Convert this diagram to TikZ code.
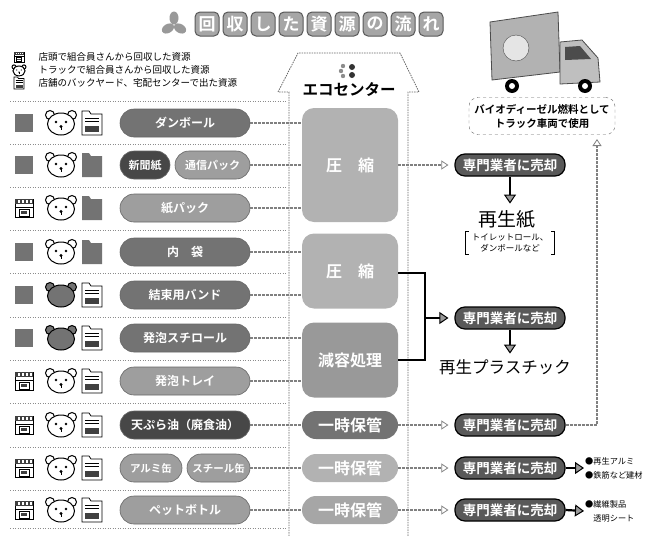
\documentclass[tikz,border=0pt]{standalone}
\usepackage{fontspec}
\newfontfamily\jp{Noto Sans CJK JP}[BoldFont={Noto Sans CJK JP Bold}]
\usepackage{tikz}
\usetikzlibrary{arrows.meta}

\colorlet{pilldark}{black!72}
\colorlet{pillmid}{black!55}
\colorlet{pilllight}{black!38}

\tikzset{
  pill/.style={rectangle, rounded corners=14pt, minimum height=28pt, inner sep=0pt,
    draw=black!60, line width=0.6pt, text=white, font=\jp\bfseries\fontsize{12}{12}\selectfont},
  stage/.style={rectangle, rounded corners=14pt, minimum width=96pt, minimum height=28pt,
    inner sep=0pt, text=white, font=\jp\bfseries\fontsize{16}{16}\selectfont},
  seller/.style={rectangle, rounded corners=10pt, minimum width=110pt, minimum height=22pt,
    inner sep=0pt, fill=black!65, draw=black, line width=1.2pt, text=white,
    font=\jp\bfseries\fontsize{13.5}{13.5}\selectfont},
  titlechar/.style={rectangle, rounded corners=5pt, minimum size=24pt, inner sep=0pt,
    fill=black!35, draw=black!65, line width=1pt, text=white,
    font=\jp\bfseries\fontsize{17}{17}\selectfont},
  rule/.style={draw=black!45, dash pattern=on 1pt off 1.5pt, line width=0.7pt},
  houseline/.style={draw=black!60, dash pattern=on 1.5pt off 1pt, line width=0.8pt},
  feed/.style={draw=black!50, line width=1.2pt, dash pattern=on 3pt off 1pt},
  feedarrow/.style={feed, -{Triangle[open, length=7pt, width=9pt, line width=0.8pt]}},
  boldline/.style={draw=black, line width=2.2pt},
  boldarrow/.style={boldline, -{Triangle[length=9pt, width=12pt, fill=black!40, line width=1pt]}},
  iconoff/.style={fill=black!55},
  % store front: 1 = collected here, 0 = not
  pics/store/.style={code={
    \ifnum#1=1
      \draw[line width=0.8pt, fill=white] (-9,-9) rectangle (9,9);
      \fill[black!75] (-9,-9) rectangle (9,-4);
      \foreach \s in {-6,-2,2,6} \fill[white] (\s,-8) rectangle (\s+1.5,-5);
      \draw[line width=0.6pt] (-9,-1) -- (9,-1);
      \draw[line width=0.8pt] (-5,1) rectangle (5,8);
      \fill[black!75] (-3,3) rectangle (3,6);
    \else
      \fill[iconoff] (-9,-9) rectangle (9,9);
    \fi}},
  % bear face of the delivery truck
  pics/bear/.style={code={
    \ifnum#1=1 \def\bearfill{white}\else\def\bearfill{black!55}\fi
    \draw[line width=1pt, fill=\bearfill] (-11,-8) circle (4.5) (11,-8) circle (4.5);
    \draw[line width=1pt, fill=\bearfill] (0,1) ellipse (13.5 and 11);
    \ifnum#1=1
      \fill (-5,-1) circle (1.4) (5,-1) circle (1.4) (0,3.5) circle (1.6);
      \draw[line width=0.8pt] (0,3.5) -- (0,7);
    \fi}},
  % back-yard slip
  pics/doc/.style={code={
    \ifnum#1=1
      \draw[line width=0.8pt, fill=white] (-10,-12) -- (-3,-12) -- (-1,-9) -- (10,-9)
        -- (10,12) -- (-10,12) -- cycle;
      \draw[line width=0.6pt] (-7,-5) -- (7,-5) (-7,-2) -- (7,-2);
      \fill[black!75] (-7,3) rectangle (7,9);
    \else
      \fill[iconoff] (-10,-12) -- (-3,-12) -- (-1,-9) -- (10,-9)
        -- (10,12) -- (-10,12) -- cycle;
    \fi}},
}

\begin{document}
\begin{tikzpicture}[x=1pt, y=-1pt, font=\jp]
  \useasboundingbox (0,0) rectangle (646,536);

  % Title
  \begin{scope}[shift={(174,25)}]
    \foreach \a in {90,210,330}
      \fill[black!40, rotate=\a] (7,0) ellipse (6.5 and 4.5);
  \end{scope}
  \foreach \c [count=\i] in {回,収,し,た,資,源,の,流,れ}
    \node[titlechar] (t\i) at ({179+28*\i},24) {\c};

  % Legend
  \pic[scale=0.55] at (19,57) {store=1};
  \pic[scale=0.45] at (19,70.5) {bear=1};
  \pic[scale=0.5] at (19,83) {doc=1};
  \node[anchor=west, font=\jp\fontsize{9.5}{9.5}\selectfont] (lg1) at (35,57)
    {店頭で組合員さんから回収した資源};
  \node[anchor=west, font=\jp\fontsize{9.5}{9.5}\selectfont] (lg2) at (35,70)
    {トラックで組合員さんから回収した資源};
  \node[anchor=west, font=\jp\fontsize{9.5}{9.5}\selectfont] (lg3) at (35,83)
    {店舗のバックヤード、宅配センターで出た資源};

  % Eco center outline
  \draw[houseline] (289,536) -- (289,92) -- (278,92) -- (298,53) -- (400,53)
    -- (419,92) -- (408,92) -- (408,536);
  \fill[black!45] (343,66) circle (2.2) (341,71) circle (2.2) (343,76) circle (2.2);
  \fill[black!80] (352,67) circle (3) (352,75) circle (3);
  \node[font=\jp\bfseries\fontsize{15.5}{15.5}\selectfont] (eco) at (349,90) {エコセンター};

  % Row rules
  \foreach \y in {101,144,187,230,273,317,360,403,447,490,528}
    \draw[rule] (10,\y) -- (287,\y);

  % Source icons per row
  \foreach \y/\s/\b/\d in {123/0/1/1, 165/0/1/0, 208/1/1/0, 252/0/1/0, 295/0/0/1,
                           338/0/0/1, 381/1/1/1, 425/1/1/1, 468/1/1/1, 510/1/1/1} {
    \pic at (24,\y) {store=\s};
    \pic at (61,\y) {bear=\b};
    \pic at (92,\y) {doc=\d};
  }

  % Materials
  \foreach \r/\y/\c/\t in {1/123/pillmid/ダンボール, 3/208/pilllight/紙パック,
      4/252/pillmid/内　袋, 5/295/pillmid/結束用バンド, 6/338/pillmid/発泡スチロール,
      7/381/pilllight/発泡トレイ, 8/425/pilldark/天ぷら油（廃食油）,
      10/510/pilllight/ペットボトル}
    \node[pill, fill=\c, minimum width=130pt] (p\r) at (185,\y) {\t};
  \node[pill, fill=pilldark, minimum width=50pt, font=\jp\bfseries\fontsize{11}{11}\selectfont]
    (p2n) at (145,165) {新聞紙};
  \node[pill, fill=pilllight, minimum width=75pt, font=\jp\bfseries\fontsize{11}{11}\selectfont]
    (p2) at (212.5,165) {通信パック};
  \node[pill, fill=pilllight, minimum width=62pt, font=\jp\bfseries\fontsize{10.5}{10.5}\selectfont]
    (p9a) at (151,468) {アルミ缶};
  \node[pill, fill=pilllight, minimum width=63pt, font=\jp\bfseries\fontsize{10.5}{10.5}\selectfont]
    (p9) at (218.5,468) {スチール缶};

  % Processing at the eco center
  \node[stage, fill=black!30, minimum height=114pt, rounded corners=12pt] (m1) at (350,165) {圧　縮};
  \node[stage, fill=black!30, minimum height=75pt, rounded corners=12pt] (m2) at (350,271) {圧　縮};
  \node[stage, fill=black!40, minimum height=75pt, rounded corners=12pt] (m3) at (350,360) {減容処理};
  \node[stage, fill=black!55] (m4) at (350,425) {一時保管};
  \node[stage, fill=black!30] (m5) at (350,468) {一時保管};
  \node[stage, fill=black!35] (m6) at (350,510) {一時保管};

  \foreach \r/\m in {1/1,2/1,3/1,4/2,5/2,6/3,7/3,8/4,9/5,10/6}
    \draw[feed] (p\r.east) -- (p\r.east -| m\m.west);

  % Sold to recyclers
  \node[seller] (s1) at (510,165) {専門業者に売却};
  \node[seller] (s2) at (510,318) {専門業者に売却};
  \node[seller] (s3) at (510,425) {専門業者に売却};
  \node[seller] (s4) at (510,468) {専門業者に売却};
  \node[seller] (s5) at (510,510) {専門業者に売却};

  \draw[feedarrow, shorten >=6pt] (m1) -- (s1);
  \draw[feedarrow, shorten >=6pt] (m4) -- (s3);
  \draw[feedarrow, shorten >=6pt] (m5) -- (s4);
  \draw[feedarrow, shorten >=6pt] (m6) -- (s5);

  \coordinate (join) at (425,318);
  \draw[boldline] (m2.east |- 0,273) -- (425,273) -- (425,360) -- (m3.east |- 0,360);
  \draw[boldarrow, shorten >=6pt] (join) -- (s2);

  % Results
  \draw[boldarrow] (s1.south) -- ++(0,27);
  \node[font=\jp\fontsize{19}{19}\selectfont] (r1) at (507,219) {再生紙};
  \node[align=center, font=\jp\fontsize{8.5}{11}\selectfont, inner xsep=6pt, inner ysep=2pt]
    (r1n) at (510,243) {トイレットロール、\\ダンボールなど};
  \draw[line width=0.8pt] ([xshift=3pt]r1n.north west) -- (r1n.north west)
    -- (r1n.south west) -- ([xshift=3pt]r1n.south west);
  \draw[line width=0.8pt] ([xshift=-3pt]r1n.north east) -- (r1n.north east)
    -- (r1n.south east) -- ([xshift=-3pt]r1n.south east);

  \draw[boldarrow] (s2.south) -- ++(0,24);
  \node[font=\jp\fontsize{16.5}{16.5}\selectfont] (r2) at (505,367) {再生プラスチック};

  \node[anchor=west, align=left, inner xsep=1pt, font=\jp\fontsize{8.2}{14}\selectfont] (o4)
    at (584,468) {●再生アルミ\\●鉄筋など建材};
  \node[anchor=west, align=left, inner xsep=1pt, font=\jp\fontsize{8.2}{14}\selectfont] (o5)
    at (584,511) {●繊維製品\\\phantom{●}透明シート};
  \draw[boldarrow] (s4.east) -- (o4.west);
  \draw[boldarrow] (s5.east) -- (o5.west);

  % Truck
  \fill[black!30] (490,22) -- (558,12) -- (560,72) -- (492,80) -- cycle;
  \draw[black!70, line width=0.8pt] (490,22) -- (558,12) -- (560,72) -- (492,80) -- cycle;
  \draw[black!70, fill=black!10] (516,48) circle (13);
  \fill[black!25] (560,42) -- (582,40) -- (598,58) -- (600,82) -- (560,84) -- cycle;
  \draw[black!70, line width=0.8pt] (560,42) -- (582,40) -- (598,58) -- (600,82) -- (560,84) -- cycle;
  \fill[black!70] (565,47) -- (580,46) -- (591,59) -- (565,60) -- cycle;
  \fill[black] (512,86) circle (7) (585,86) circle (7);
  \fill[white] (512,86) circle (3) (585,86) circle (3);
  \node[draw=black!60, dashed, rounded corners=9pt, align=center, minimum width=146pt,
    minimum height=37pt, font=\jp\bfseries\fontsize{10.5}{14}\selectfont] (cap) at (542,116)
    {バイオディーゼル燃料として\\トラック車両で使用};

  \coordinate (up) at (597,139);
  \draw[feedarrow] (s3.east) -| (up);
\end{tikzpicture}
\end{document}
